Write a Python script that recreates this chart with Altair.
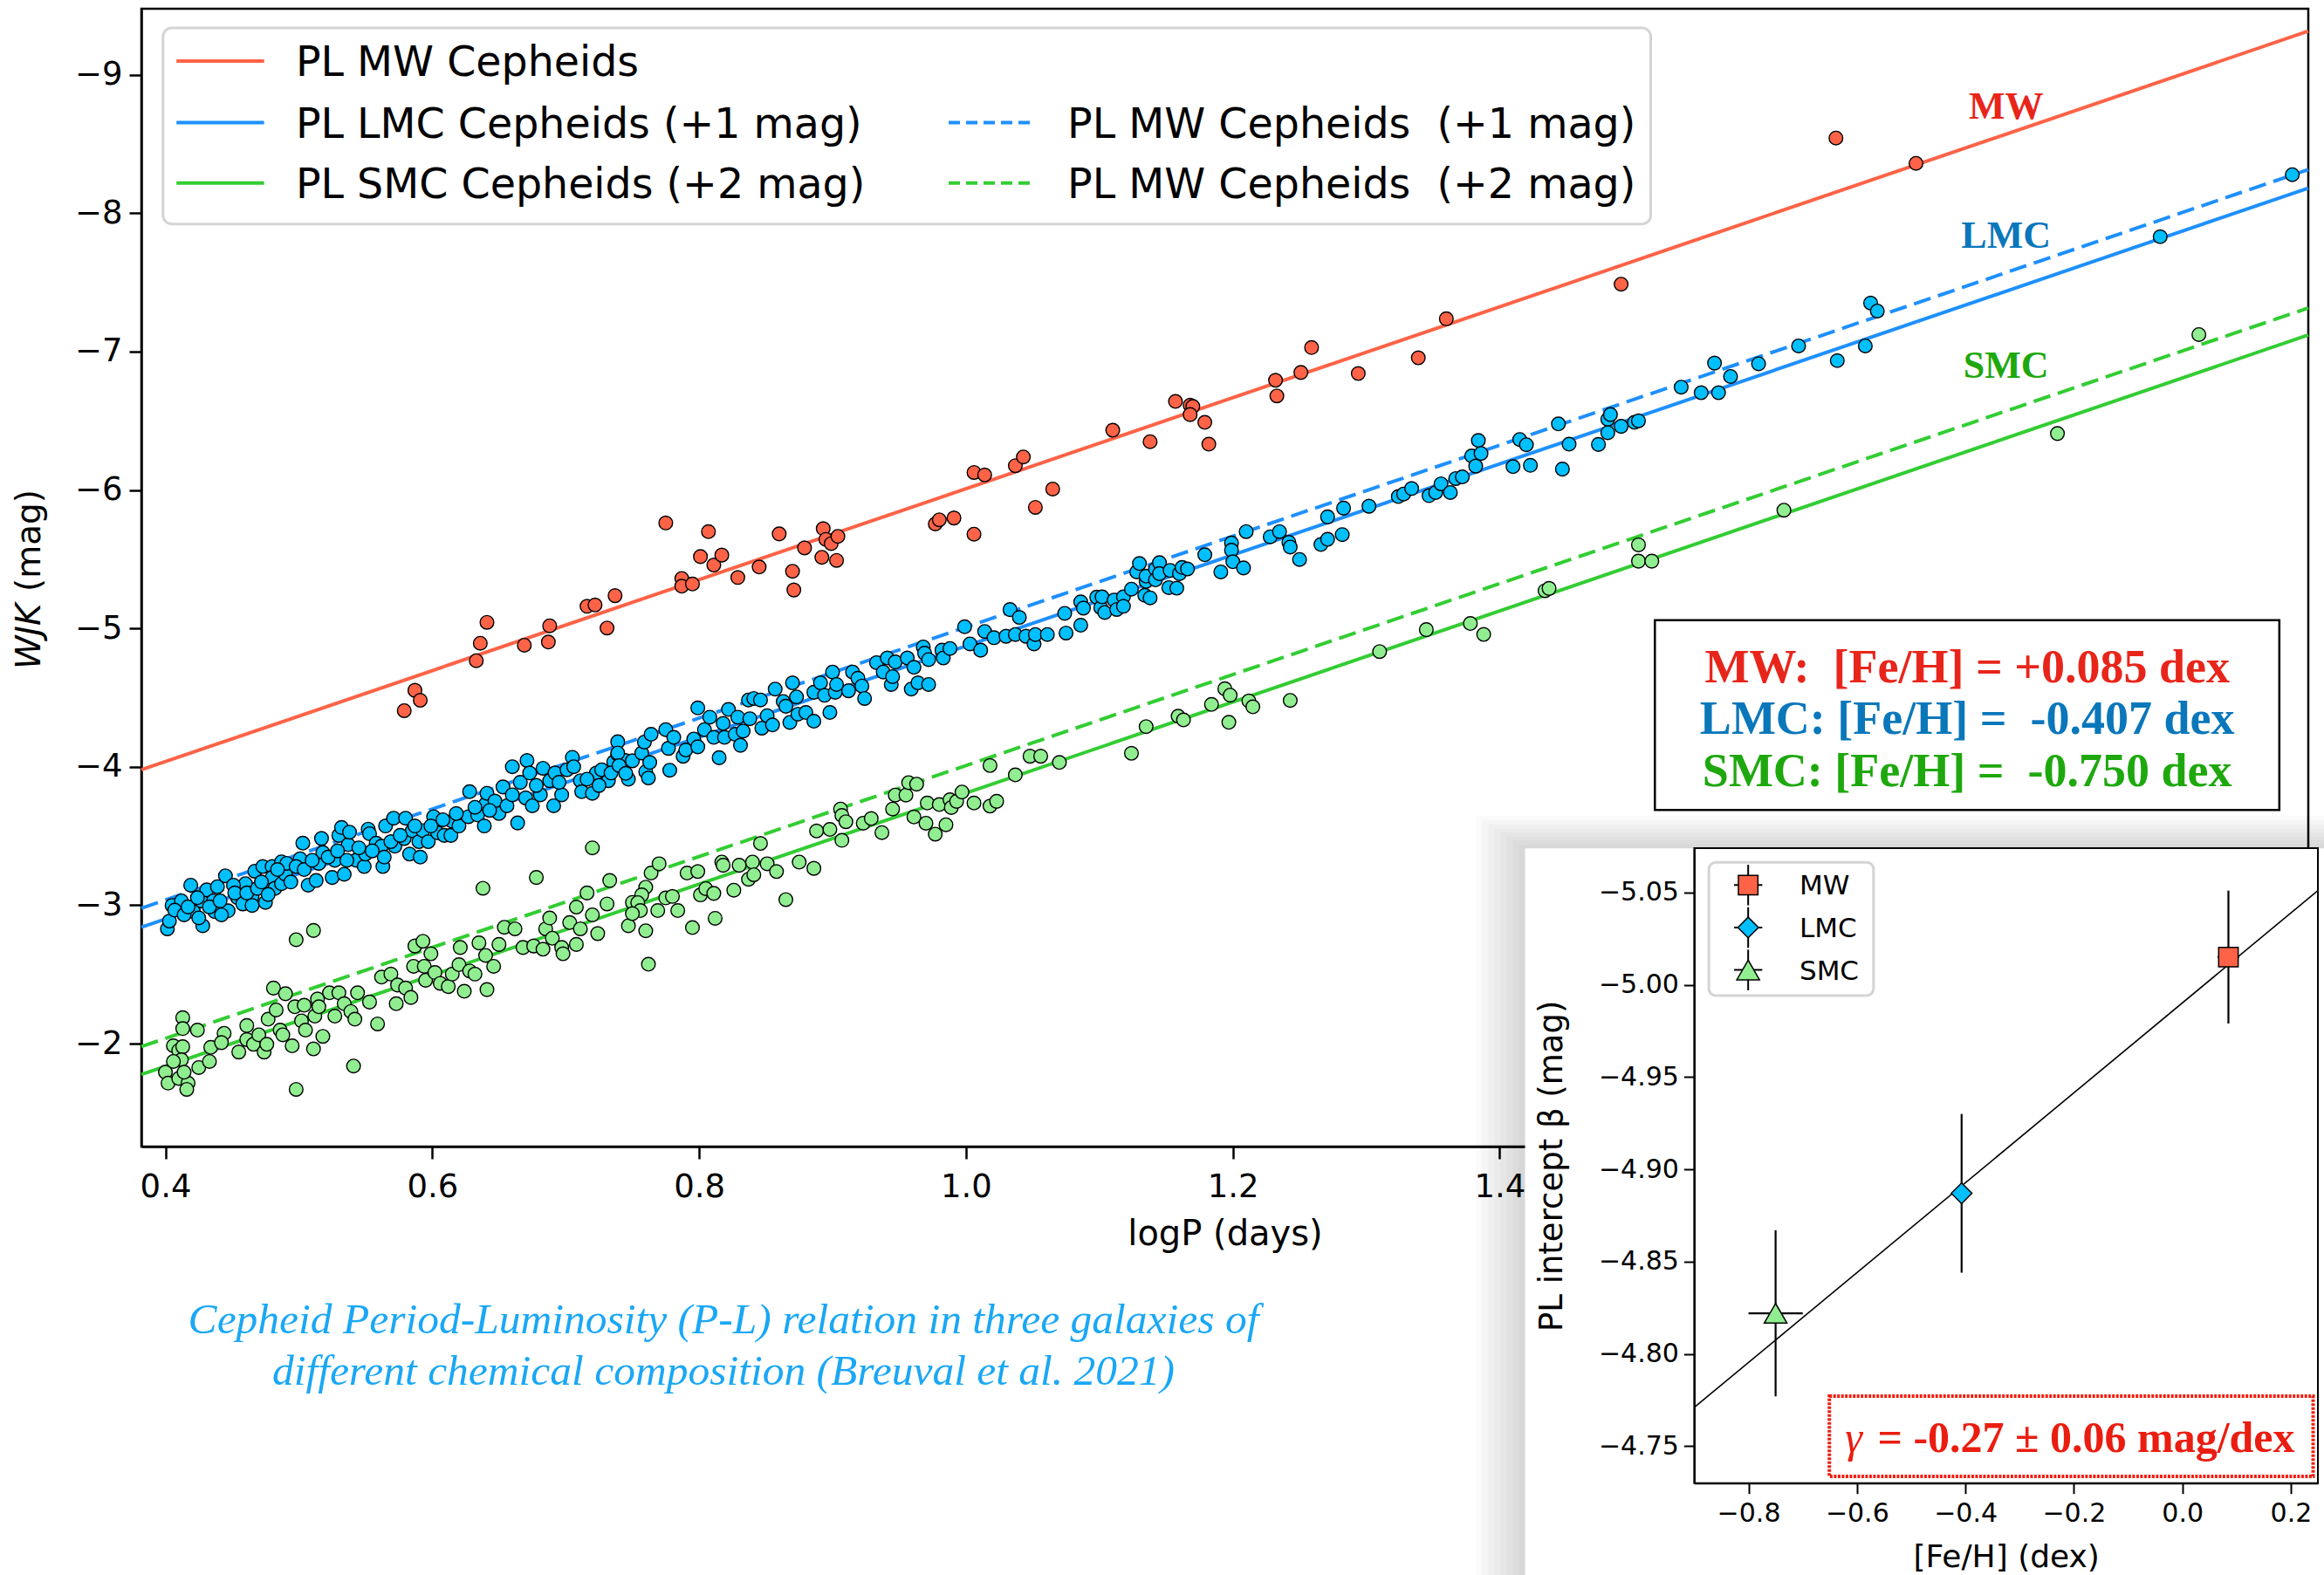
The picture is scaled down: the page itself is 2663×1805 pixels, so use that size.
import altair as alt
import pandas as pd

# ---------------- data ----------------
MW_POINTS = [
    (0.579, -4.406), (0.587, -4.553), (0.591, -4.481), (0.633, -4.767), (0.636, -4.893),
    (0.641, -5.044), (0.669, -4.879), (0.687, -4.902), (0.688, -5.019), (0.716, -5.160),
    (0.722, -5.170), (0.731, -5.003), (0.737, -5.237), (0.775, -5.762), (0.787, -5.361),
    (0.787, -5.305), (0.795, -5.321), (0.801, -5.519), (0.807, -5.699), (0.811, -5.458),
    (0.817, -5.530), (0.829, -5.368), (0.845, -5.444), (0.860, -5.683), (0.870, -5.413),
    (0.871, -5.278), (0.879, -5.582), (0.892, -5.514), (0.893, -5.721), (0.895, -5.643),
    (0.899, -5.613), (0.903, -5.492), (0.904, -5.665), (0.977, -5.755), (0.980, -5.785),
    (0.991, -5.798), (1.006, -6.127), (1.006, -5.681), (1.014, -6.109), (1.037, -6.176),
    (1.043, -6.239), (1.052, -5.875), (1.065, -6.007), (1.110, -6.432), (1.138, -6.349),
    (1.157, -6.640), (1.168, -6.613), (1.170, -6.604), (1.168, -6.545), (1.179, -6.489),
    (1.182, -6.331), (1.232, -6.793), (1.233, -6.680), (1.251, -6.849), (1.259, -7.029),
    (1.294, -6.842), (1.339, -6.955), (1.360, -7.237), (1.491, -7.487), (1.652, -8.543),
    (1.712, -8.360),
]

LMC_POINTS = [
    (0.4015, -2.830), (0.403, -2.886), (0.405, -2.999), (0.412, -3.032), (0.419, -3.145),
    (0.421, -2.954), (0.428, -2.852), (0.427, -3.032), (0.431, -3.111), (0.436, -3.032),
    (0.439, -3.134), (0.437, -2.954), (0.445, -3.213), (0.447, -2.960), (0.454, -3.055),
    (0.458, -3.010), (0.460, -3.156), (0.465, -3.066), (0.467, -3.246), (0.465, -2.999),
    (0.475, -3.021), (0.473, -3.280), (0.480, -3.280), (0.480, -3.201), (0.482, -3.122),
    (0.487, -3.156), (0.490, -3.224), (0.487, -3.314), (0.491, -3.303), (0.501, -3.336),
    (0.503, -3.449), (0.507, -3.145), (0.513, -3.179), (0.515, -3.303), (0.518, -3.381),
    (0.517, -3.483), (0.525, -3.201), (0.527, -3.325), (0.530, -3.505), (0.532, -3.562),
    (0.534, -3.224), (0.537, -3.438), (0.538, -3.528), (0.543, -3.325), (0.549, -3.280),
    (0.550, -3.370), (0.552, -3.550), (0.553, -3.517), (0.558, -3.449), (0.562, -3.427),
    (0.563, -3.280), (0.564, -3.348), (0.565, -3.573), (0.571, -3.629), (0.572, -3.427),
    (0.580, -3.629), (0.579, -3.483), (0.583, -3.370), (0.585, -3.539), (0.590, -3.460),
    (0.591, -3.348), (0.593, -3.539), (0.597, -3.460), (0.601, -3.640), (0.604, -3.523),
    (0.609, -3.505), (0.614, -3.505), (0.615, -3.607), (0.620, -3.573), (0.627, -3.640),
    (0.628, -3.821), (0.634, -3.652), (0.639, -3.573), (0.640, -3.731), (0.641, -3.809),
    (0.647, -3.753), (0.650, -3.663), (0.653, -3.855), (0.656, -3.719), (0.660, -4.001),
    (0.664, -3.595), (0.666, -3.888), (0.670, -3.776), (0.671, -4.046), (0.673, -3.956),
    (0.675, -3.719), (0.681, -3.798), (0.683, -3.990), (0.688, -3.900), (0.691, -3.719),
    (0.692, -3.956), (0.697, -3.798), (0.701, -3.979), (0.705, -4.069), (0.706, -4.001),
    (0.711, -3.900), (0.712, -3.821), (0.720, -3.809), (0.723, -3.956), (0.727, -3.979),
    (0.732, -3.900), (0.736, -4.035), (0.739, -4.181), (0.739, -4.091), (0.745, -4.046),
    (0.747, -3.911),
    (0.407, -2.965), (0.414, -2.931), (0.417, -2.988), (0.424, -3.055), (0.425, -2.909),
    (0.433, -2.988), (0.441, -3.032), (0.442, -2.931), (0.451, -3.145), (0.452, -3.089),
    (0.461, -3.089), (0.469, -3.122), (0.472, -3.168), (0.477, -3.078), (0.484, -3.258),
    (0.494, -3.168), (0.498, -3.280), (0.504, -3.258), (0.510, -3.325), (0.522, -3.348),
    (0.529, -3.393), (0.536, -3.325), (0.545, -3.415), (0.555, -3.393), (0.569, -3.460),
    (0.576, -3.505), (0.587, -3.573), (0.599, -3.573), (0.608, -3.618), (0.618, -3.663),
    (0.632, -3.708), (0.643, -3.686), (0.660, -3.798), (0.678, -3.866), (0.695, -3.888),
    (0.716, -3.911), (0.725, -3.866), (0.734, -3.956),
    (0.739, -4.100), (0.740, -4.010), (0.745, -3.953), (0.750, -4.044), (0.757, -4.100),
    (0.759, -4.179), (0.760, -3.965), (0.762, -3.920), (0.763, -4.032), (0.764, -4.235),
    (0.775, -4.269), (0.777, -4.134), (0.778, -3.976), (0.781, -4.213), (0.788, -4.077),
    (0.790, -4.122), (0.796, -4.201), (0.799, -4.426), (0.799, -4.145), (0.804, -4.269),
    (0.808, -4.359), (0.811, -4.213), (0.815, -4.066), (0.818, -4.314), (0.819, -4.213),
    (0.822, -4.415), (0.827, -4.235), (0.829, -4.359), (0.831, -4.156), (0.833, -4.258),
    (0.837, -4.483), (0.838, -4.348), (0.841, -4.494), (0.846, -4.483), (0.847, -4.280),
    (0.851, -4.370), (0.855, -4.303), (0.857, -4.562), (0.863, -4.472), (0.865, -4.438),
    (0.868, -4.321), (0.870, -4.607), (0.873, -4.505), (0.874, -4.381), (0.880, -4.393),
    (0.886, -4.539), (0.886, -4.330), (0.891, -4.607), (0.894, -4.517), (0.898, -4.393),
    (0.900, -4.685), (0.902, -4.539), (0.903, -4.595), (0.912, -4.550), (0.915, -4.685),
    (0.919, -4.640), (0.922, -4.584), (0.924, -4.494), (0.933, -4.753), (0.938, -4.685),
    (0.941, -4.787), (0.944, -4.595), (0.945, -4.652), (0.947, -4.758), (0.956, -4.787),
    (0.959, -4.562), (0.961, -4.719), (0.964, -4.607), (0.968, -4.866), (0.969, -4.821),
    (0.972, -4.595), (0.972, -4.775), (0.982, -4.843), (0.983, -4.787), (0.988, -4.855),
    (0.999, -5.012), (1.003, -4.888), (1.011, -4.843), (1.014, -4.978), (1.021, -4.933),
    (1.030, -4.944), (1.033, -5.136), (1.037, -4.956), (1.040, -5.080), (1.045, -4.944),
    (1.051, -4.888), (1.052, -4.956), (1.061, -4.956), (1.074, -5.109), (1.075, -4.967),
    (1.086, -5.192), (1.086, -5.023), (1.088, -5.147), (1.098, -5.226),
    (1.101, -5.149), (1.102, -5.228), (1.104, -5.115), (1.111, -5.205), (1.113, -5.137),
    (1.118, -5.228), (1.118, -5.160), (1.124, -5.284), (1.128, -5.408), (1.130, -5.469),
    (1.134, -5.239), (1.135, -5.340), (1.135, -5.378), (1.138, -5.221), (1.142, -5.430),
    (1.142, -5.351), (1.145, -5.475), (1.145, -5.396), (1.152, -5.295), (1.153, -5.419),
    (1.158, -5.291), (1.160, -5.396), (1.162, -5.441), (1.166, -5.430), (1.179, -5.532),
    (1.191, -5.408), (1.199, -5.617), (1.199, -5.565), (1.200, -5.482), (1.208, -5.437),
    (1.210, -5.700), (1.228, -5.662), (1.235, -5.700), (1.242, -5.622), (1.243, -5.588),
    (1.250, -5.498), (1.266, -5.606), (1.271, -5.644), (1.271, -5.806), (1.282, -5.678),
    (1.283, -5.869), (1.302, -5.883), (1.324, -5.953), (1.328, -5.971), (1.334, -6.011),
    (1.347, -5.959), (1.352, -5.982), (1.356, -6.045), (1.363, -5.982), (1.367, -6.083),
    (1.372, -6.095), (1.379, -6.246), (1.382, -6.173), (1.384, -6.358), (1.386, -6.264),
    (1.410, -6.169), (1.415, -6.365), (1.420, -6.327), (1.423, -6.178), (1.444, -6.478),
    (1.447, -6.151), (1.452, -6.331), (1.474, -6.329), (1.481, -6.511), (1.483, -6.545),
    (1.481, -6.414), (1.491, -6.460), (1.501, -6.489), (1.504, -6.500), (1.536, -6.743),
    (1.551, -6.703), (1.564, -6.703), (1.561, -6.917), (1.573, -6.820), (1.594, -6.912),
    (1.624, -7.041), (1.653, -6.935), (1.674, -7.041), (1.678, -7.351), (1.683, -7.293),
    (1.895, -7.830), (1.994, -8.278),
]

SMC_POINTS = [
    (0.413, -2.188), (0.413, -2.109), (0.424, -2.098), (0.406, -1.985), (0.410, -1.951),
    (0.413, -1.978), (0.412, -1.884), (0.406, -1.872), (0.400, -1.794), (0.402, -1.715),
    (0.410, -1.749), (0.417, -1.715), (0.414, -1.794), (0.416, -1.670), (0.425, -1.828),
    (0.433, -1.872), (0.434, -1.974), (0.444, -2.075), (0.442, -2.008), (0.455, -1.940),
    (0.461, -2.131), (0.461, -2.030), (0.466, -1.996), (0.474, -1.940), (0.470, -2.064),
    (0.476, -1.996), (0.477, -2.177), (0.481, -2.402), (0.483, -2.244), (0.486, -2.098),
    (0.488, -2.064), (0.490, -2.361), (0.495, -1.985), (0.498, -2.751), (0.497, -2.267),
    (0.502, -2.165), (0.505, -2.098), (0.504, -2.278), (0.511, -2.818), (0.511, -1.963),
    (0.512, -2.199), (0.514, -2.323), (0.515, -2.267), (0.518, -2.053), (0.523, -2.368),
    (0.527, -2.199), (0.530, -2.368), (0.534, -2.289), (0.539, -2.233), (0.542, -2.177),
    (0.541, -1.839), (0.544, -2.368), (0.553, -2.301), (0.559, -2.143), (0.562, -2.481),
    (0.569, -2.503), (0.573, -2.289), (0.574, -2.424), (0.580, -2.402), (0.584, -2.334),
    (0.586, -2.559), (0.587, -2.706), (0.593, -2.740), (0.594, -2.559), (0.595, -2.458),
    (0.599, -2.650), (0.602, -2.514), (0.606, -2.436), (0.612, -2.413), (0.615, -2.503),
    (0.620, -2.571), (0.621, -2.695), (0.624, -2.379), (0.628, -2.526), (0.632, -2.503),
    (0.635, -2.728), (0.638, -3.123), (0.640, -2.638), (0.641, -2.391), (0.646, -2.559),
    (0.650, -2.717), (0.654, -2.841), (0.662, -2.830), (0.668, -2.695), (0.676, -2.706),
    (0.678, -3.201), (0.683, -2.683), (0.685, -2.830), (0.688, -2.908), (0.690, -2.762),
    (0.697, -2.695), (0.698, -2.650), (0.703, -2.875), (0.708, -2.717), (0.708, -2.987),
    (0.711, -2.830), (0.716, -3.089), (0.720, -3.415), (0.720, -2.931), (0.724, -2.796),
    (0.731, -3.010), (0.733, -3.179), (0.747, -2.852), (0.750, -3.021), (0.498, -1.670),
    (0.760, -3.131), (0.764, -3.233), (0.770, -3.300), (0.757, -3.075), (0.754, -3.019),
    (0.756, -2.962), (0.750, -2.940), (0.760, -2.816), (0.769, -2.962), (0.775, -3.053),
    (0.780, -3.064), (0.784, -2.962), (0.791, -3.233), (0.795, -2.839), (0.799, -3.244),
    (0.801, -3.075), (0.805, -3.120), (0.811, -3.086), (0.812, -2.906), (0.817, -3.312),
    (0.818, -3.289), (0.826, -3.109), (0.830, -3.289), (0.837, -3.188), (0.840, -3.312),
    (0.841, -3.221), (0.846, -3.447), (0.851, -3.300), (0.858, -3.244), (0.865, -3.041),
    (0.875, -3.312), (0.886, -3.267), (0.888, -3.537), (0.898, -3.548), (0.907, -3.469),
    (0.906, -3.695), (0.907, -3.649), (0.910, -3.604), (0.923, -3.593), (0.929, -3.627),
    (0.937, -3.525), (0.945, -3.695), (0.947, -3.796), (0.955, -3.796), (0.957, -3.886),
    (0.963, -3.875), (0.961, -3.638), (0.970, -3.593), (0.971, -3.739), (0.977, -3.514),
    (0.980, -3.728), (0.985, -3.582), (0.988, -3.762), (0.989, -3.706), (0.993, -3.751),
    (0.997, -3.818), (1.006, -3.739), (1.018, -3.717), (1.023, -3.751), (1.018, -4.010),
    (1.037, -3.942), (1.048, -4.077), (1.056, -4.077), (1.070, -4.032), (0.762, -2.574),
    (1.124, -4.098), (1.135, -4.291), (1.159, -4.366), (1.163, -4.339), (1.184, -4.451),
    (1.194, -4.564), (1.198, -4.518), (1.197, -4.322), (1.212, -4.476), (1.215, -4.434),
    (1.243, -4.480), (1.310, -4.833), (1.345, -4.991), (1.378, -5.036), (1.388, -4.957),
    (1.434, -5.273), (1.437, -5.289), (1.504, -5.604), (1.504, -5.486), (1.514, -5.486),
    (1.613, -5.854), (1.818, -6.408), (1.924, -7.123),
]

# PL relations (end points at the left and right edge of the panel)
LINE_LOGP = [0.382, 2.006]
MW_LINE = [-3.979, -9.315]
LMC_LINE = [-2.841, -8.181]
MW_PLUS1_LINE = [-2.979, -8.315]
SMC_LINE = [-1.778, -7.120]
MW_PLUS2_LINE = [-1.979, -7.315]

# inset: PL intercept vs metallicity
GALAXIES = ["MW", "LMC", "SMC"]
FEH = [0.085, -0.407, -0.750]
FEH_ERR = [0.020, 0.004, 0.050]
BETA = [-5.015, -4.887, -4.822]
BETA_ERR = [0.036, 0.043, 0.045]
FIT_FEH = [-0.9, 0.25]
FIT_BETA = [-4.771, -5.051]

X_TICKS = [0.4, 0.6, 0.8, 1.0, 1.2, 1.4]
Y_TICKS = [-9, -8, -7, -6, -5, -4, -3, -2]
INSET_X_TICKS = [-0.8, -0.6, -0.4, -0.2, 0.0, 0.2]
INSET_Y_TICKS = [-5.05, -5.00, -4.95, -4.90, -4.85, -4.80, -4.75]

LEGEND_COL1 = ["PL MW Cepheids", "PL LMC Cepheids (+1 mag)", "PL SMC Cepheids (+2 mag)"]
LEGEND_COL2 = ["PL MW Cepheids\u00a0 (+1 mag)", "PL MW Cepheids\u00a0 (+2 mag)"]
METAL_LINES = ["MW:\u00a0 [Fe/H] = +0.085 dex",
               "LMC: [Fe/H] =\u00a0 -0.407 dex",
               "SMC: [Fe/H] =\u00a0 -0.750 dex"]
CAPTION = ["Cepheid Period-Luminosity (P-L) relation in three galaxies of",
           "different chemical composition (Breuval et al. 2021)"]
GAMMA_SYMBOL = "\u03b3"
GAMMA_TEXT = "= -0.27 \u00b1 0.06 mag/dex"

# ---------------- styles ----------------
W, H = 2483, 1304
MW_LC, LMC_LC, SMC_LC = "#ff6347", "#1e90ff", "#32cd32"
MW_PC, LMC_PC, SMC_PC = "#ff6347", "#00bfff", "#90ee90"
RED_T, BLUE_T, GREEN_T = "#e8251a", "#0b77bb", "#1ea80e"
SANS = "DejaVu Sans"
SERIF = "Liberation Serif"

SX = alt.Scale(domain=[0.382, 2.006], range=[0, W], nice=False, zero=False)
SY = alt.Scale(domain=[-9.477, -1.257], range=[0, H], nice=False, zero=False)
AX = alt.Axis(values=X_TICKS, format=".1f", title="logP (days)", grid=False,
              labelFont=SANS, titleFont=SANS, labelFontSize=37, titleFontSize=40,
              titleFontWeight="normal", tickSize=14, tickWidth=2.5, domainWidth=2.5,
              labelPadding=14, titlePadding=16, domainColor="black", tickColor="black",
              labelColor="black", titleColor="black", labelFlush=False)
AY = alt.Axis(values=Y_TICKS, format="d", title=None, grid=False,
              labelFont=SANS, labelFontSize=37, tickSize=14, tickWidth=2.5,
              domainWidth=2.5, labelPadding=8, domainColor="black", tickColor="black",
              labelColor="black", labelFlush=False)


def mx(f):
    return alt.X(f, type="quantitative", scale=SX, axis=AX)


def my(f):
    return alt.Y(f, type="quantitative", scale=SY, axis=AY)


IXS = alt.Scale(domain=[-0.9, 0.25], range=[1779.4, 2494], nice=False, zero=False)
IYS = alt.Scale(domain=[-5.074, -4.730], range=[962, 1689.7], nice=False, zero=False)
IAX = alt.Axis(orient="bottom", offset=385.7, zindex=1, values=INSET_X_TICKS, format=".1f",
               title="[Fe/H] (dex)", grid=False, labelFont=SANS, titleFont=SANS,
               labelFontSize=30, titleFontSize=36, titleFontWeight="normal",
               tickSize=12, tickWidth=2, domainWidth=2, labelPadding=8, titlePadding=18,
               domainColor="black", tickColor="black", labelColor="black",
               titleColor="black", labelFlush=False)
IAY = alt.Axis(orient="left", offset=-1779.4, zindex=1, values=INSET_Y_TICKS, format=".2f",
               title="PL intercept \u03b2 (mag)", grid=False, labelFont=SANS, titleFont=SANS,
               labelFontSize=30, titleFontSize=37, titleFontWeight="normal",
               tickSize=12, tickWidth=2, domainWidth=2, labelPadding=6, titlePadding=34,
               domainColor="black", tickColor="black", labelColor="black",
               titleColor="black", labelFlush=False)


def ix(f):
    return alt.X(f, type="quantitative", scale=IXS, axis=IAX)


def iy(f):
    return alt.Y(f, type="quantitative", scale=IYS, axis=IAY)


# ---------------- main panel ----------------
main_layers = []


def pl_line(ys, color, dash=None):
    df = pd.DataFrame({"x": LINE_LOGP, "y": ys})
    kw = dict(color=color, strokeWidth=4)
    if dash:
        kw["strokeDash"] = dash
    return alt.Chart(df).mark_line(**kw).encode(x=mx("x"), y=my("y"))


main_layers += [
    pl_line(MW_LINE, MW_LC),
    pl_line(LMC_LINE, LMC_LC),
    pl_line(MW_PLUS1_LINE, LMC_LC, [20, 9]),
    pl_line(SMC_LINE, SMC_LC),
    pl_line(MW_PLUS2_LINE, SMC_LC, [20, 9]),
]


def scatter(points, fill):
    df = pd.DataFrame(points, columns=["x", "y"])
    return alt.Chart(df).mark_circle(size=245, fill=fill, stroke="black", strokeWidth=1.4,
                                     opacity=1, fillOpacity=1).encode(x=mx("x"), y=my("y"))


main_layers += [scatter(MW_POINTS, MW_PC), scatter(LMC_POINTS, LMC_PC), scatter(SMC_POINTS, SMC_PC)]

# galaxy labels next to the relations
for name, yv, col in [("MW", -8.766, RED_T), ("LMC", -7.829, BLUE_T), ("SMC", -6.895, GREEN_T)]:
    df = pd.DataFrame({"x": [1.7795], "y": [yv], "t": [name]})
    main_layers.append(alt.Chart(df).mark_text(font=SERIF, fontWeight="bold", fontSize=44,
                                                color=col, align="center", baseline="middle")
                       .encode(x=mx("x"), y=my("y"), text="t:N"))

# metallicity box
box = pd.DataFrame({"x": [1.5163], "x2": [1.9843], "y": [-5.059], "y2": [-3.689]})
main_layers.append(alt.Chart(box).mark_rect(fill="white", stroke="black", strokeWidth=2.5)
                   .encode(x=mx("x"), x2="x2:Q", y=my("y"), y2="y2:Q"))
for t, yv, col in zip(METAL_LINES, [-4.728, -4.359, -3.981], [RED_T, BLUE_T, GREEN_T]):
    df = pd.DataFrame({"x": [1.7504], "y": [yv], "t": [t]})
    main_layers.append(alt.Chart(df).mark_text(font=SERIF, fontWeight="bold", fontSize=54,
                                                color=col, align="center", baseline="middle",
                                                dy=3)
                       .encode(x=mx("x"), y=my("y"), text="t:N"))

# legend
leg = pd.DataFrame({"x": [0.3982], "x2": [1.5132], "y": [-9.338], "y2": [-7.922]})
main_layers.append(alt.Chart(leg).mark_rect(fill="white", fillOpacity=0.8, stroke="#d4d4d4",
                                            strokeWidth=3, cornerRadius=10)
                   .encode(x=mx("x"), x2="x2:Q", y=my("y"), y2="y2:Q"))
ROWS = [-9.099, -8.654, -8.218]
for yv, col, dash, x0, x1 in [(ROWS[0], MW_LC, None, 0.4083, 0.474),
                              (ROWS[1], LMC_LC, None, 0.4083, 0.474),
                              (ROWS[2], SMC_LC, None, 0.4083, 0.474),
                              (ROWS[1], LMC_LC, [13, 7], 0.987, 1.050),
                              (ROWS[2], SMC_LC, [13, 7], 0.987, 1.050)]:
    df = pd.DataFrame({"x": [x0], "x2": [x1], "y": [yv]})
    kw = dict(color=col, strokeWidth=4)
    if dash:
        kw["strokeDash"] = dash
    main_layers.append(alt.Chart(df).mark_rule(**kw).encode(x=mx("x"), x2="x2:Q", y=my("y")))
legtxt = pd.DataFrame({"x": [0.4977] * 3 + [1.076] * 2,
                       "y": ROWS + ROWS[1:],
                       "t": LEGEND_COL1 + LEGEND_COL2})
main_layers.append(alt.Chart(legtxt).mark_text(font=SANS, fontSize=47.5, color="black",
                                               align="left", baseline="middle", dy=3)
                   .encode(x=mx("x"), y=my("y"), text="t:N"))

# y axis title (W_JK in italic)
main_layers.append(alt.Chart(pd.DataFrame({"t": ["WJK"]})).mark_text(
    font=SANS, fontStyle="italic", fontSize=39, angle=270, align="left", baseline="middle",
    color="black").encode(x=alt.value(-128), y=alt.value(757), text="t:N"))
main_layers.append(alt.Chart(pd.DataFrame({"t": ["(mag)"]})).mark_text(
    font=SANS, fontSize=39, angle=270, align="right", baseline="middle",
    color="black").encode(x=alt.value(-128), y=alt.value(551), text="t:N"))

# caption
for t, yv in zip(CAPTION, [1503, 1562]):
    main_layers.append(alt.Chart(pd.DataFrame({"t": [t]})).mark_text(
        font=SERIF, fontStyle="italic", fontSize=49.5, color="#1aa7f5", align="center",
        baseline="middle").encode(x=alt.value(667), y=alt.value(yv), text="t:N"))

# inset panel shadow + white panel
PANEL_X, PANEL_Y = 1.419, -3.411
shadow = pd.DataFrame({"x": [PANEL_X - k * 0.0046 for k in range(1, 9)],
                       "x2": [2.03] * 8,
                       "y": [PANEL_Y - k * 0.029 for k in range(1, 9)],
                       "y2": [1.95] * 8})
main_layers.append(alt.Chart(shadow).mark_rect(color="black", opacity=0.018)
                   .encode(x=mx("x"), x2="x2:Q", y=my("y"), y2="y2:Q"))
panel = pd.DataFrame({"x": [PANEL_X], "x2": [2.03], "y": [PANEL_Y], "y2": [1.95]})
main_layers.append(alt.Chart(panel).mark_rect(color="white", opacity=1)
                   .encode(x=mx("x"), x2="x2:Q", y=my("y"), y2="y2:Q"))

# ---------------- inset ----------------
inset_layers = []
frame = pd.DataFrame({"x": [-0.9], "x2": [0.25], "y": [-5.074], "y2": [-4.730]})
inset_layers.append(alt.Chart(frame).mark_rect(fill="white", stroke="black", strokeWidth=2)
                    .encode(x=ix("x"), x2="x2:Q", y=iy("y"), y2="y2:Q"))
fit = pd.DataFrame({"x": FIT_FEH, "y": FIT_BETA})
inset_layers.append(alt.Chart(fit).mark_line(color="black", strokeWidth=1.6)
                    .encode(x=ix("x"), y=iy("y")))
eb = pd.DataFrame({"x": FEH, "y": BETA,
                   "ylo": [b - e for b, e in zip(BETA, BETA_ERR)],
                   "yhi": [b + e for b, e in zip(BETA, BETA_ERR)],
                   "xlo": [f - e for f, e in zip(FEH, FEH_ERR)],
                   "xhi": [f + e for f, e in zip(FEH, FEH_ERR)]})
inset_layers.append(alt.Chart(eb).mark_rule(color="black", strokeWidth=2.2)
                    .encode(x=ix("x"), y=iy("ylo"), y2="yhi:Q"))
inset_layers.append(alt.Chart(eb).mark_rule(color="black", strokeWidth=2.2)
                    .encode(x=ix("xlo"), x2="xhi:Q", y=iy("y")))
SHAPES = [("square", 500, MW_PC), ("diamond", 560, LMC_PC), ("triangle-up", 680, SMC_PC)]
for i, (shape, size, col) in enumerate(SHAPES):
    df = pd.DataFrame({"x": [FEH[i]], "y": [BETA[i]]})
    inset_layers.append(alt.Chart(df).mark_point(shape=shape, size=size, filled=True, fill=col,
                                                 stroke="black", strokeWidth=1.5, opacity=1)
                        .encode(x=ix("x"), y=iy("y")))

# inset legend
ileg = pd.DataFrame({"x": [-0.8731], "x2": [-0.5694], "y": [-5.0663], "y2": [-4.9941]})
inset_layers.append(alt.Chart(ileg).mark_rect(fill="white", stroke="#d4d4d4", strokeWidth=3,
                                              cornerRadius=8)
                    .encode(x=ix("x"), x2="x2:Q", y=iy("y"), y2="y2:Q"))
LROWS = [-5.054, -5.031, -5.008]
lx = -0.8006
lcross = pd.DataFrame({"x": [lx] * 3, "y": LROWS,
                       "ylo": [r - 0.011 for r in LROWS], "yhi": [r + 0.011 for r in LROWS],
                       "xlo": [lx - 0.026] * 3, "xhi": [lx + 0.026] * 3})
inset_layers.append(alt.Chart(lcross).mark_rule(color="black", strokeWidth=2)
                    .encode(x=ix("x"), y=iy("ylo"), y2="yhi:Q"))
inset_layers.append(alt.Chart(lcross).mark_rule(color="black", strokeWidth=2)
                    .encode(x=ix("xlo"), x2="xhi:Q", y=iy("y")))
for i, (shape, size, col) in enumerate(SHAPES):
    df = pd.DataFrame({"x": [lx], "y": [LROWS[i]]})
    inset_layers.append(alt.Chart(df).mark_point(shape=shape, size=size, filled=True, fill=col,
                                                 stroke="black", strokeWidth=1.5, opacity=1)
                        .encode(x=ix("x"), y=iy("y")))
ilt = pd.DataFrame({"x": [-0.706] * 3, "y": LROWS, "t": GALAXIES})
inset_layers.append(alt.Chart(ilt).mark_text(font=SANS, fontSize=31, color="black",
                                             align="left", baseline="middle", dy=2)
                    .encode(x=ix("x"), y=iy("y"), text="t:N"))

# gamma box
gbox = pd.DataFrame({"x": [-0.6509], "x2": [0.2412], "y": [-4.7771], "y2": [-4.7336]})
inset_layers.append(alt.Chart(gbox).mark_rect(fill="white", stroke="#f01e0f", strokeWidth=4,
                                              strokeDash=[3, 1.5])
                    .encode(x=ix("x"), x2="x2:Q", y=iy("y"), y2="y2:Q"))
gsym = pd.DataFrame({"x": [-0.622], "y": [-4.7555], "t": [GAMMA_SYMBOL]})
inset_layers.append(alt.Chart(gsym).mark_text(font=SERIF, fontStyle="italic", fontSize=50,
                                              color="#ea1d10", align="left", baseline="middle",
                                              dy=3)
                    .encode(x=ix("x"), y=iy("y"), text="t:N"))
gt = pd.DataFrame({"x": [-0.562], "y": [-4.7555], "t": [GAMMA_TEXT]})
inset_layers.append(alt.Chart(gt).mark_text(font=SERIF, fontWeight="bold", fontSize=50,
                                            color="#ea1d10", align="left", baseline="middle",
                                            dy=3)
                    .encode(x=ix("x"), y=iy("y"), text="t:N"))

main = alt.layer(*main_layers)
inset = alt.layer(*inset_layers)

chart = (alt.layer(main, inset)
         .resolve_scale(x="independent", y="independent")
         .properties(width=W, height=H,
                     padding={"left": 162, "top": 10, "right": 18, "bottom": 491},
                     autosize=alt.AutoSizeParams(type="none"),
                     background="white")
         .configure_view(stroke="black", strokeWidth=2.5)
         .configure_axis(grid=False))

chart.save("out.html", embed_options={"renderer": "svg", "actions": False})
